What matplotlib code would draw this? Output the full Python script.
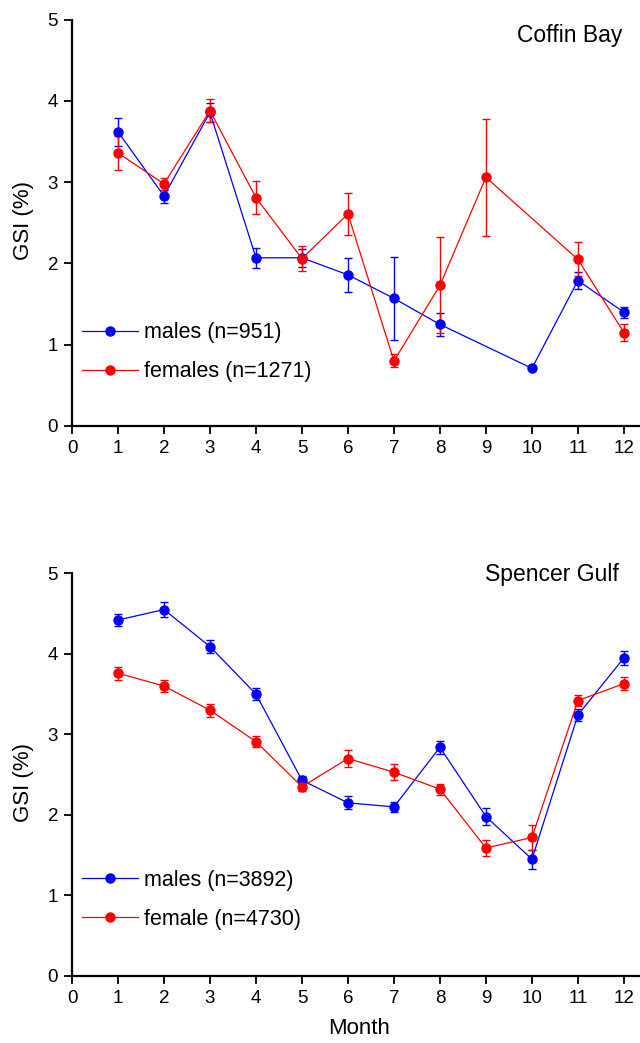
import matplotlib
matplotlib.use("Agg")
import matplotlib.pyplot as plt
import numpy as np

plt.rcParams['font.family'] = ['Liberation Sans', 'DejaVu Sans']

months = [1, 2, 3, 4, 5, 6, 7, 8, 9, 10, 11, 12]

# Coffin Bay
cb_m_months = [1, 2, 3, 4, 5, 6, 7, 8, 10, 11, 12]
cb_m_gsi = [3.62, 2.83, 3.86, 2.07, 2.07, 1.86, 1.57, 1.25, 0.71, 1.79, 1.40]
cb_m_err = [0.17, 0.08, 0.12, 0.12, 0.11, 0.21, 0.51, 0.14, 0.0, 0.10, 0.07]
cb_f_months = [1, 2, 3, 4, 5, 6, 7, 8, 9, 11, 12]
cb_f_gsi = [3.36, 2.98, 3.88, 2.81, 2.06, 2.61, 0.80, 1.73, 3.06, 2.05, 1.15]
cb_f_err = [0.21, 0.07, 0.14, 0.20, 0.15, 0.26, 0.08, 0.59, 0.72, 0.21, 0.10]

# Spencer Gulf
sg_m_gsi = [4.42, 4.55, 4.09, 3.50, 2.43, 2.15, 2.10, 2.84, 1.98, 1.45, 3.24, 3.95]
sg_m_err = [0.08, 0.09, 0.08, 0.07, 0.05, 0.08, 0.06, 0.08, 0.10, 0.12, 0.07, 0.09]
sg_f_gsi = [3.76, 3.60, 3.30, 2.91, 2.35, 2.70, 2.53, 2.32, 1.59, 1.72, 3.42, 3.63]
sg_f_err = [0.08, 0.08, 0.08, 0.065, 0.05, 0.11, 0.10, 0.07, 0.10, 0.16, 0.07, 0.08]

x_ticks = list(range(0, 13))
y_ticks = [0, 1, 2, 3, 4, 5]

W, H = 640, 1043
fig = plt.figure(figsize=(W / 100, H / 100), dpi=100)

def fx(px):
    return px / W

def fy(py):
    return 1 - py / H

ax1 = fig.add_axes([fx(72), fy(426), fx(640) - fx(72), fy(19.7) - fy(426)])
ax2 = fig.add_axes([fx(72), fy(976), fx(640) - fx(72), fy(573.3) - fy(976)])

BLUE = '#0000ff'
RED = '#ff0000'

def plot_series(ax, x, y, e, color, label):
    x = np.asarray(x, float)
    y = np.asarray(y, float)
    e = np.asarray(e, float)
    ax.plot(x, y, color=color, lw=0.9, marker='o', ms=6.5, mec=color, mfc=color,
            label=label, clip_on=False, zorder=3)
    m = e > 0
    ax.errorbar(x[m], y[m], yerr=e[m], fmt='none', ecolor=color, elinewidth=1.0,
                capsize=3, capthick=1.0, clip_on=False, zorder=2)

plot_series(ax1, cb_m_months, cb_m_gsi, cb_m_err, BLUE, 'males (n=951)')
plot_series(ax1, cb_f_months, cb_f_gsi, cb_f_err, RED, 'females (n=1271)')
plot_series(ax2, months, sg_m_gsi, sg_m_err, BLUE, 'males (n=3892)')
plot_series(ax2, months, sg_f_gsi, sg_f_err, RED, 'female (n=4730)')

for ax in (ax1, ax2):
    ax.set_xlim(0, 12.35)
    ax.set_ylim(0, 5)
    ax.set_xticks(x_ticks)
    ax.set_yticks(y_ticks)
    ax.spines['top'].set_visible(False)
    ax.spines['right'].set_visible(False)
    ax.spines['left'].set_linewidth(1.6)
    ax.spines['bottom'].set_linewidth(1.6)
    ax.tick_params(direction='out', length=6, width=1.3, labelsize=13.5, pad=4)
    ax.set_facecolor('none')

leg_kw = dict(frameon=False, fontsize=15.5, handlelength=2.6, handletextpad=0.3,
              labelspacing=0.85, borderpad=0, borderaxespad=0, loc='center left',
              bbox_transform=fig.transFigure)
ax1.legend(bbox_to_anchor=(fx(82), fy(352.3)), **leg_kw)
ax2.legend(bbox_to_anchor=(fx(82), fy(899.7)), **leg_kw)

fig.text(fx(622), fy(41.7), 'Coffin Bay', ha='right', va='baseline', fontsize=16.5)
fig.text(fx(619), fy(580.7), 'Spencer Gulf', ha='right', va='baseline', fontsize=16.5)
fig.text(fx(23), fy(220), 'GSI (%)', rotation=90, ha='center', va='center', fontsize=16)
fig.text(fx(23), fy(783), 'GSI (%)', rotation=90, ha='center', va='center', fontsize=16)
fig.text(fx(359), fy(1029), 'Month', ha='center', va='center', fontsize=16)

fig.savefig('out.png', dpi=100)
